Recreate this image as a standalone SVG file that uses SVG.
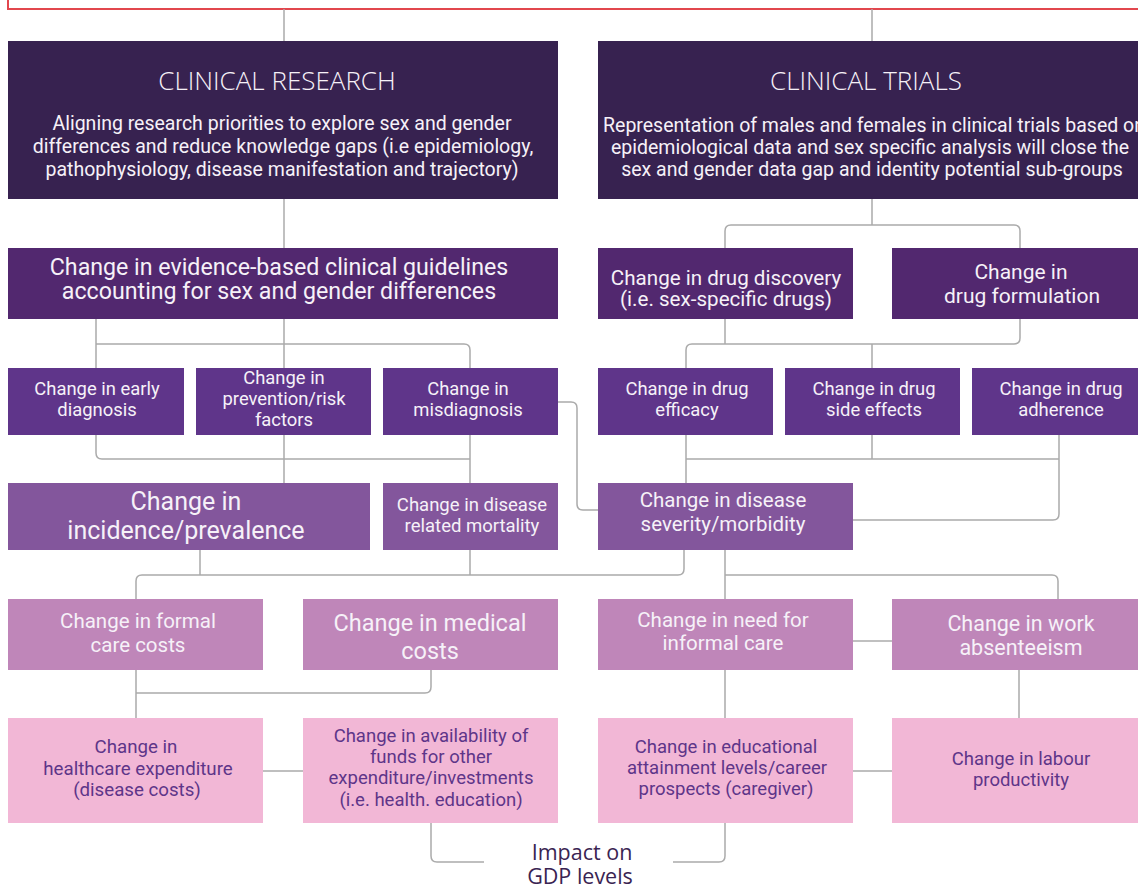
<svg xmlns="http://www.w3.org/2000/svg" width="1138" height="889" viewBox="0 0 1138 889">
<style>
.c{fill:none;stroke:#ababab;stroke-width:1.5}
.t{font-family:Roboto,"Noto Sans",sans-serif;text-anchor:middle;fill:#f6f1f8}
.p{fill:#5e3589}
.h{font-family:"Open Sans","Noto Sans",sans-serif;font-weight:300;text-anchor:middle;fill:#f6f1f8;font-size:26px}
.r1{fill:#372250}.r2{fill:#52286f}.r3{fill:#5f358a}.r4{fill:#83569c}.r5{fill:#bf86b9}.r6{fill:#f2b7d6}
</style>
<rect x="0" y="0" width="1138" height="889" fill="#ffffff"/>
<rect x="8" y="-20" width="1145" height="29" fill="none" stroke="#e2474e" stroke-width="2"/>
<g id="connectors">
<path class="c" d="M284,9V41M872,9V41"/>
<path class="c" d="M284,199V248"/>
<path class="c" d="M872,199V225M725,248V231Q725,225 731,225H1014Q1020,225 1020,231V248"/>
<path class="c" d="M96,319V368M284,319V368M96,344H464Q470,344 470,350V368"/>
<path class="c" d="M725,319V344M1020,319V338Q1020,344 1014,344H692Q686,344 686,350V368M872,344V368"/>
<path class="c" d="M96,435V453Q96,459 102,459H470M284,435V483M470,435V483"/>
<path class="c" d="M558,402H571Q577,402 577,408V504Q577,510 583,510H598"/>
<path class="c" d="M686,435V483M872,435V459M686,459H1059M1059,435V514Q1059,520 1053,520H853"/>
<path class="c" d="M200,550V575M470,550V575M136,599V581Q136,575 142,575H678Q684,575 684,569V550"/>
<path class="c" d="M725,550V599M725,575H1052Q1058,575 1058,581V599"/>
<path class="c" d="M853,641H892"/>
<path class="c" d="M136,670V718M431,670V687Q431,693 425,693H136"/>
<path class="c" d="M725,670V718M1019,670V718"/>
<path class="c" d="M263,771H303M853,771H892"/>
<path class="c" d="M431,823V856Q431,862 437,862H484M725,823V856Q725,862 719,862H673"/>
</g>
<g id="clinical-research">
<rect class="r1" x="8" y="41" width="550" height="158"/>
<text class="h" x="277" y="90">CLINICAL RESEARCH</text>
<text class="t" font-size="19.5"><tspan x="282" y="130">Aligning research priorities to explore sex and gender</tspan><tspan x="283" y="153">differences and reduce knowledge gaps (i.e epidemiology,</tspan><tspan x="282" y="176">pathophysiology, disease manifestation and trajectory)</tspan></text>
</g>
<g id="clinical-trials">
<rect class="r1" x="598" y="41" width="545" height="158"/>
<text class="h" x="866" y="90">CLINICAL TRIALS</text>
<text class="t" font-size="19.5"><tspan x="874" y="132">Representation of males and females in clinical trials based on</tspan><tspan x="870" y="154">epidemiological data and sex specific analysis will close the</tspan><tspan x="872" y="176">sex and gender data gap and identity potential sub-groups</tspan></text>
</g>
<g id="guidelines">
<rect class="r2" x="8" y="248" width="550" height="71"/>
<text class="t" font-size="23.2"><tspan x="279" y="275">Change in evidence-based clinical guidelines</tspan><tspan x="279" y="299">accounting for sex and gender differences</tspan></text>
</g>
<g id="drug-discovery">
<rect class="r2" x="598" y="248" width="255" height="71"/>
<text class="t" font-size="20.6"><tspan x="726" y="285">Change in drug discovery</tspan><tspan x="726" y="306">(i.e. sex-specific drugs)</tspan></text>
</g>
<g id="drug-formulation">
<rect class="r2" x="892" y="248" width="251" height="71"/>
<text class="t" font-size="21"><tspan x="1021" y="279">Change in</tspan><tspan x="1022" y="303">drug formulation</tspan></text>
</g>
<g id="early-diagnosis">
<rect class="r3" x="8" y="368" width="176" height="67"/>
<text class="t" font-size="18.4"><tspan x="97" y="395">Change in early</tspan><tspan x="97" y="416">diagnosis</tspan></text>
</g>
<g id="prevention">
<rect class="r3" x="196" y="368" width="175" height="67"/>
<text class="t" font-size="18.4"><tspan x="284" y="384">Change in</tspan><tspan x="284" y="405">prevention/risk</tspan><tspan x="284" y="426">factors</tspan></text>
</g>
<g id="misdiagnosis">
<rect class="r3" x="383" y="368" width="175" height="67"/>
<text class="t" font-size="18.4"><tspan x="468" y="395">Change in</tspan><tspan x="468" y="416">misdiagnosis</tspan></text>
</g>
<g id="drug-efficacy">
<rect class="r3" x="598" y="368" width="175" height="67"/>
<text class="t" font-size="18.4"><tspan x="687" y="395">Change in drug</tspan><tspan x="687" y="416">efficacy</tspan></text>
</g>
<g id="drug-side-effects">
<rect class="r3" x="785" y="368" width="175" height="67"/>
<text class="t" font-size="18.4"><tspan x="874" y="395">Change in drug</tspan><tspan x="874" y="416">side effects</tspan></text>
</g>
<g id="drug-adherence">
<rect class="r3" x="972" y="368" width="171" height="67"/>
<text class="t" font-size="18.4"><tspan x="1061" y="395">Change in drug</tspan><tspan x="1061" y="416">adherence</tspan></text>
</g>
<g id="incidence">
<rect class="r4" x="8" y="483" width="362" height="67"/>
<text class="t" font-size="25"><tspan x="186" y="510">Change in</tspan><tspan x="186" y="539">incidence/prevalence</tspan></text>
</g>
<g id="mortality">
<rect class="r4" x="383" y="483" width="175" height="67"/>
<text class="t" font-size="18.5"><tspan x="472" y="511">Change in disease</tspan><tspan x="472" y="532">related mortality</tspan></text>
</g>
<g id="severity">
<rect class="r4" x="598" y="483" width="255" height="67"/>
<text class="t" font-size="20.5"><tspan x="723" y="507">Change in disease</tspan><tspan x="723" y="531">severity/morbidity</tspan></text>
</g>
<g id="formal-care">
<rect class="r5" x="8" y="599" width="255" height="71"/>
<text class="t" font-size="20.5"><tspan x="138" y="628">Change in formal</tspan><tspan x="138" y="652">care costs</tspan></text>
</g>
<g id="medical-costs">
<rect class="r5" x="303" y="599" width="255" height="71"/>
<text class="t" font-size="23.5"><tspan x="430" y="631">Change in medical</tspan><tspan x="430" y="659">costs</tspan></text>
</g>
<g id="informal-care">
<rect class="r5" x="598" y="599" width="255" height="71"/>
<text class="t" font-size="20.5"><tspan x="723" y="627">Change in need for</tspan><tspan x="723" y="650">informal care</tspan></text>
</g>
<g id="absenteeism">
<rect class="r5" x="892" y="599" width="251" height="71"/>
<text class="t" font-size="21.5"><tspan x="1021" y="631">Change in work</tspan><tspan x="1021" y="655">absenteeism</tspan></text>
</g>
<g id="healthcare-expenditure">
<rect class="r6" x="8" y="718" width="255" height="105"/>
<text class="t p" font-size="18.7"><tspan x="136" y="753">Change in</tspan><tspan x="138" y="775">healthcare expenditure</tspan><tspan x="137" y="796">(disease costs)</tspan></text>
</g>
<g id="availability-funds">
<rect class="r6" x="303" y="718" width="255" height="105"/>
<text class="t p" font-size="18.5"><tspan x="431" y="742">Change in availability of</tspan><tspan x="431" y="763">funds for other</tspan><tspan x="431" y="784">expenditure/investments</tspan><tspan x="431" y="806">(i.e. health. education)</tspan></text>
</g>
<g id="educational-attainment">
<rect class="r6" x="598" y="718" width="255" height="105"/>
<text class="t p" font-size="18.5"><tspan x="726" y="753">Change in educational</tspan><tspan x="727" y="774">attainment levels/career</tspan><tspan x="726" y="795">prospects (caregiver)</tspan></text>
</g>
<g id="labour-productivity">
<rect class="r6" x="892" y="718" width="251" height="105"/>
<text class="t p" font-size="18.5"><tspan x="1021" y="765">Change in labour</tspan><tspan x="1021" y="786">productivity</tspan></text>
</g>
<g id="gdp">
<text font-family="'Open Sans','Noto Sans',sans-serif" font-size="21.5" fill="#3a2452" text-anchor="middle"><tspan x="582" y="860">Impact on</tspan><tspan x="580" y="884">GDP levels</tspan></text>
</g>
</svg>
